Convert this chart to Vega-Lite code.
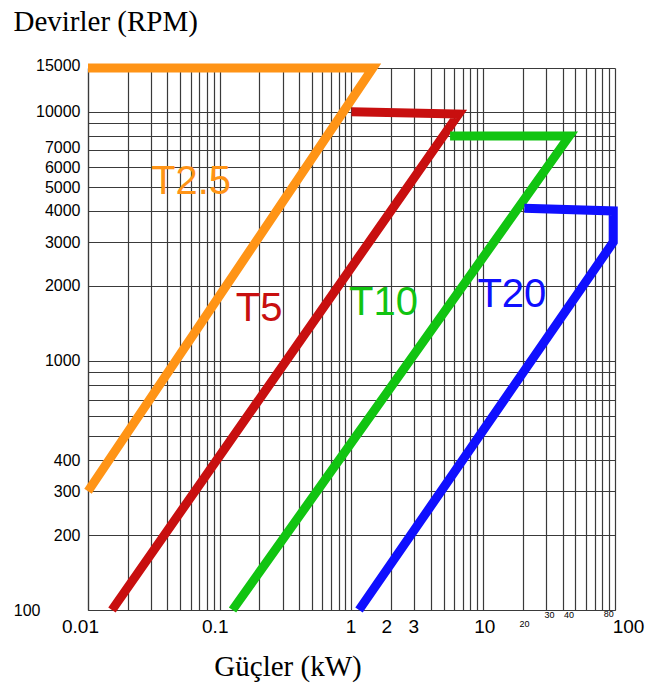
{
  "$schema": "https://vega.github.io/schema/vega-lite/v6.json",
  "width": 527,
  "height": 542,
  "autosize": "none",
  "padding": {"left": 88, "top": 68, "right": 36, "bottom": 80},
  "background": "white",
  "config": {"view": {"stroke": null}},
  "datasets": {
    "curves": [
      {"series": "T2.5", "step": 1, "kW": 0.01, "rpm": 300},
      {"series": "T2.5", "step": 2, "kW": 1.45, "rpm": 15000},
      {"series": "T2.5", "step": 3, "kW": 0.01, "rpm": 15000},
      {"series": "T5", "step": 1, "kW": 0.0152, "rpm": 100},
      {"series": "T5", "step": 2, "kW": 6.5, "rpm": 9800},
      {"series": "T5", "step": 3, "kW": 1, "rpm": 10000},
      {"series": "T10", "step": 1, "kW": 0.125, "rpm": 100},
      {"series": "T10", "step": 2, "kW": 45, "rpm": 8000},
      {"series": "T10", "step": 3, "kW": 5.6, "rpm": 8000},
      {"series": "T20", "step": 1, "kW": 1.14, "rpm": 100},
      {"series": "T20", "step": 2, "kW": 97, "rpm": 3000},
      {"series": "T20", "step": 3, "kW": 97, "rpm": 4000},
      {"series": "T20", "step": 4, "kW": 20.5, "rpm": 4100}
    ],
    "labels": [
      {"series": "T2.5", "kW": 0.0605, "rpm": 4677},
      {"series": "T5", "kW": 0.199, "rpm": 1446},
      {"series": "T10", "kW": 1.75, "rpm": 1528},
      {"series": "T20", "kW": 16.5, "rpm": 1645}
    ]
  },
  "layer": [
    {
      "data": {"name": "curves"},
      "mark": {"type": "line", "strokeWidth": 9, "strokeJoin": "miter", "strokeCap": "butt", "clip": false},
      "encoding": {
        "x": {
          "field": "kW", "type": "quantitative",
          "scale": {"type": "log", "domain": [0.01, 100], "nice": false, "zero": false},
          "axis": {
            "values": [0.01,0.02,0.03,0.04,0.05,0.06,0.07,0.08,0.09,0.1,0.2,0.3,0.4,0.5,0.6,0.7,0.8,0.9,1,2,3,4,5,6,7,8,9,10,20,30,40,50,60,70,80,90,100],
            "format": "~g",
            "labelExpr": "indexof([0.01,0.1,1,2,3,10,20,30,40,80,100], datum.value) >= 0 ? datum.label : ''",
            "labelOverlap": false,
            "labelFlush": false,
            "ticks": false,
            "grid": true,
            "gridColor": "#3a3a3a",
            "gridWidth": 1.2,
            "gridOpacity": 1,
            "domainColor": "#3a3a3a",
            "domainWidth": 1.2,
            "labelFont": "Liberation Sans",
            "labelColor": "#000000",
            "labelBaseline": "top",
            "labelAlign": "center",
            "labelFontSize": {"condition": {"test": "datum.value==20||datum.value==30||datum.value==40||datum.value==80", "value": 9}, "value": 19},
            "labelPadding": {"condition": [
              {"test": "datum.value==20", "value": 9},
              {"test": "datum.value==30||datum.value==40", "value": 0},
              {"test": "datum.value==80", "value": -1}
            ], "value": 7},
            "labelOffset": {"condition": [
              {"test": "datum.value==0.01", "value": -8},
              {"test": "datum.value==0.1||datum.value==2", "value": -5},
              {"test": "datum.value==1||datum.value==3", "value": -1},
              {"test": "datum.value==30", "value": 3},
              {"test": "datum.value==40||datum.value==80", "value": 6},
              {"test": "datum.value==100", "value": 13}
            ], "value": 1},
            "title": "Güçler (kW)",
            "titleFont": "Liberation Serif",
            "titleFontSize": 29,
            "titleFontWeight": "normal",
            "titleColor": "#000000",
            "titleX": 199.5,
            "titleY": 65,
            "titleAlign": "center",
            "titleBaseline": "alphabetic"
          }
        },
        "y": {
          "field": "rpm", "type": "quantitative",
          "scale": {"type": "log", "domain": [100, 15000], "nice": false, "zero": false},
          "axis": {
            "values": [100,200,300,400,500,600,700,800,900,1000,2000,3000,4000,5000,6000,7000,8000,9000,10000,15000],
            "format": "d",
            "labelExpr": "indexof([100,200,300,400,1000,2000,3000,4000,5000,6000,7000,10000,15000], datum.value) >= 0 ? datum.label : ''",
            "labelOverlap": false,
            "labelFlush": false,
            "ticks": false,
            "grid": true,
            "gridColor": "#3a3a3a",
            "gridWidth": 1.2,
            "gridOpacity": 1,
            "domainColor": "#3a3a3a",
            "domainWidth": 1.2,
            "labelFont": "Liberation Sans",
            "labelColor": "#000000",
            "labelFontSize": 16,
            "labelBaseline": "middle",
            "labelAlign": "right",
            "labelOffset": {"condition": [
              {"test": "datum.value==7000", "value": -3},
              {"test": "datum.value==5000", "value": 1},
              {"test": "datum.value==15000", "value": -3}
            ], "value": 0},
            "labelPadding": {"condition": {"test": "datum.value==100", "value": 48}, "value": 8},
            "title": "Devirler (RPM)",
            "titleFont": "Liberation Serif",
            "titleFontSize": 29,
            "titleFontWeight": "normal",
            "titleColor": "#000000",
            "titleAngle": 0,
            "titleX": -75,
            "titleY": -38,
            "titleAlign": "left",
            "titleBaseline": "alphabetic"
          }
        },
        "color": {
          "field": "series", "type": "nominal",
          "scale": {"domain": ["T2.5", "T5", "T10", "T20"], "range": ["#FF9416", "#C80F0F", "#11C411", "#0F0FFF"]},
          "legend": null
        },
        "order": {"field": "step", "type": "quantitative"}
      }
    },
    {
      "data": {"name": "labels"},
      "mark": {"type": "text", "font": "Liberation Sans", "fontSize": 40, "baseline": "alphabetic", "align": "center"},
      "encoding": {
        "x": {"field": "kW", "type": "quantitative"},
        "y": {"field": "rpm", "type": "quantitative"},
        "text": {"field": "series"},
        "color": {"field": "series", "type": "nominal", "legend": null}
      }
    }
  ]
}
